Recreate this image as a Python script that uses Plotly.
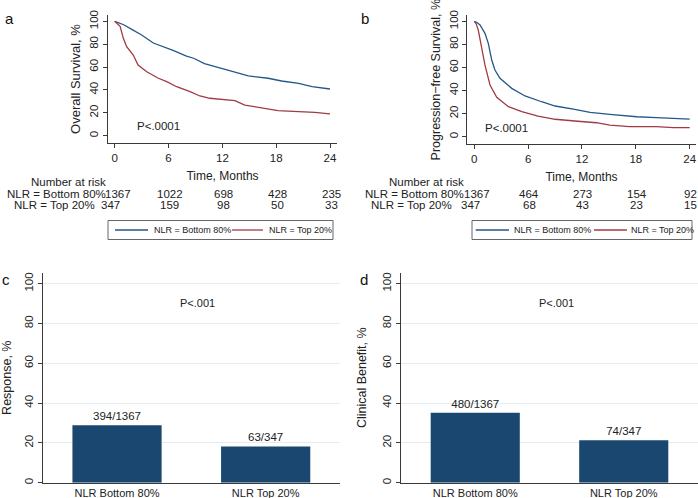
import plotly.graph_objects as go

W, H = 698, 498
FONT = "Liberation Sans, Arial, Helvetica, sans-serif"
BLUE = "#24578a"
RED = "#a03a44"
NAVY = "#1a476f"
AX = "#3a3a3a"
GRID = "#e2ecec"

# ---------------- data ----------------
group_names = ["NLR = Bottom 80%", "NLR = Top 20%"]

os_t_bottom = [0, 0.5, 1, 2, 3, 4.3, 5, 6, 6.5, 8, 8.8, 10, 11.2, 13, 14.9, 17.1, 18.6, 20.5, 22, 24]
os_bottom = [100, 98.5, 97, 92.5, 88, 81, 79, 76, 74.5, 69.5, 67.7, 63, 60.3, 56, 52.2, 50.2, 47.8, 45.8, 42.8, 40.8]
os_t_top = [0, 0.3, 0.6, 0.96, 1.33, 2.07, 2.6, 3.57, 4.87, 5.8, 6.9, 8.4, 9.5, 10.6, 11.7, 13.4, 14.5, 16.8, 18.2, 20.5, 22.3, 24]
os_top = [100, 98, 95.6, 85.1, 77.8, 70.5, 61.8, 55.9, 50.2, 47.2, 42.8, 38.5, 34.7, 32.7, 31.8, 30.6, 26.8, 23.9, 21.9, 21, 20.4, 19]

pfs_t_bottom = [0, 0.3, 0.64, 1.19, 1.56, 1.94, 2.3, 2.86, 4.17, 5.65, 7.5, 9, 11.2, 12.9, 15.1, 18.1, 20.3, 24]
pfs_bottom = [100, 99, 96.8, 89.6, 80.9, 66.5, 57.8, 50.6, 41.9, 35.3, 30.3, 26.6, 23.7, 21.1, 19.4, 17.3, 16.5, 15.3]
pfs_t_top = [0, 0.2, 0.45, 0.82, 1.19, 1.75, 2.5, 3.8, 5.3, 7.1, 9, 11.2, 13.6, 15.1, 17.3, 20.3, 22.2, 24]
pfs_top = [100, 98, 92.2, 78, 62.1, 44.8, 34.1, 26, 21.7, 17.9, 15.1, 13.6, 12.1, 10.1, 8.7, 8.7, 7.8, 7.8]

risk_times = [0, 6, 12, 18, 24]
os_risk_bottom = [1367, 1022, 698, 428, 235]
os_risk_top = [347, 159, 98, 50, 33]
pfs_risk_bottom = [1367, 464, 273, 154, 92]
pfs_risk_top = [347, 68, 43, 23, 15]

bar_categories = ["NLR Bottom 80%", "NLR Top 20%"]
response_pct = [28.8, 18.2]
response_labels = ["394/1367", "63/347"]
benefit_pct = [35.1, 21.3]
benefit_labels = ["480/1367", "74/347"]

km_ticks_x = [0, 6, 12, 18, 24]
ticks_y = [0, 20, 40, 60, 80, 100]


def px(x):
    return x / W


def py(y):
    return 1 - y / H


fig = go.Figure()

# KM curves
fig.add_trace(go.Scatter(x=os_t_bottom, y=os_bottom, mode="lines", name=group_names[0],
                         line=dict(color=BLUE, width=1.3), xaxis="x", yaxis="y"))
fig.add_trace(go.Scatter(x=os_t_top, y=os_top, mode="lines", name=group_names[1],
                         line=dict(color=RED, width=1.3), xaxis="x", yaxis="y"))
fig.add_trace(go.Scatter(x=pfs_t_bottom, y=pfs_bottom, mode="lines", name=group_names[0],
                         line=dict(color=BLUE, width=1.3), xaxis="x2", yaxis="y2"))
fig.add_trace(go.Scatter(x=pfs_t_top, y=pfs_top, mode="lines", name=group_names[1],
                         line=dict(color=RED, width=1.3), xaxis="x2", yaxis="y2"))

# Bars
fig.add_trace(go.Bar(x=bar_categories, y=response_pct, text=response_labels, textposition="outside",
                     marker=dict(color=NAVY, line=dict(width=0)), width=0.6,
                     textfont=dict(size=11.5, color="#222"), xaxis="x3", yaxis="y3", cliponaxis=False))
fig.add_trace(go.Bar(x=bar_categories, y=benefit_pct, text=benefit_labels, textposition="outside",
                     marker=dict(color=NAVY, line=dict(width=0)), width=0.6,
                     textfont=dict(size=11.5, color="#222"), xaxis="x4", yaxis="y4", cliponaxis=False))

common_axis = dict(showline=True, linecolor=AX, linewidth=1, ticks="outside", ticklen=4,
                   tickcolor=AX, zeroline=False, tickfont=dict(size=11.5, color="#222"))

layout = dict(
    width=W, height=H, margin=dict(l=0, r=0, t=0, b=0, autoexpand=False),
    paper_bgcolor="white", plot_bgcolor="white",
    font=dict(family=FONT, color="#222"),
    showlegend=False,
    xaxis=dict(common_axis, domain=[px(108), px(337)], range=[-0.75, 24.78], tickvals=km_ticks_x,
               showgrid=False, anchor="y",
               title=dict(text="Time, Months", font=dict(size=12), standoff=8)),
    yaxis=dict(common_axis, domain=[py(143), py(15)], range=[-6.4, 105.5], tickvals=ticks_y,
               tickangle=-90, showgrid=False, anchor="x",
               title=dict(text="Overall Survival, %", font=dict(size=13), standoff=4)),
    xaxis2=dict(common_axis, domain=[px(467.3), px(695.7)], range=[-0.78, 24.67], tickvals=km_ticks_x,
                showgrid=False, anchor="y2",
                title=dict(text="Time, Months", font=dict(size=12), standoff=8)),
    yaxis2=dict(common_axis, domain=[py(144.3), py(15)], range=[-6.6, 105.5], tickvals=ticks_y,
                tickangle=-90, showgrid=False, anchor="x2",
                title=dict(text="Progression\u2212free Survival, %", font=dict(size=12.5), standoff=4)),
    xaxis3=dict(showline=True, linecolor=AX, linewidth=1, ticks="", zeroline=False,
                domain=[px(42.7), px(340)], range=[-0.5, 1.5], anchor="y3", showgrid=False,
                tickfont=dict(size=11, color="#222")),
    yaxis3=dict(common_axis, domain=[py(482.7), py(272.7)], range=[0, 105.5], tickvals=ticks_y,
                tickangle=-90, showgrid=True, gridcolor=GRID, gridwidth=1, anchor="x3",
                title=dict(text="Response, %", font=dict(size=12.5), standoff=15)),
    xaxis4=dict(showline=True, linecolor=AX, linewidth=1, ticks="", zeroline=False,
                domain=[px(401), px(698)], range=[-0.5, 1.5], anchor="y4", showgrid=False,
                tickfont=dict(size=11, color="#222")),
    yaxis4=dict(common_axis, domain=[py(482.7), py(272.7)], range=[0, 105.5], tickvals=ticks_y,
                tickangle=-90, showgrid=True, gridcolor=GRID, gridwidth=1, anchor="x4",
                title=dict(text="Clinical Benefit, %", font=dict(size=12.5), standoff=12)),
)
fig.update_layout(**layout)

ann = []
shapes = []
# panel letters
for letter, x, y in [("a", 9, 18), ("b", 365, 18), ("c", 6, 279), ("d", 364, 279)]:
    ann.append(dict(text=letter, x=px(x), y=py(y), xref="paper", yref="paper", showarrow=False,
                    xanchor="center", yanchor="middle", font=dict(size=15, color="#111")))

# P values
ann.append(dict(text="P<.0001", x=4.83, y=8.2, xref="x", yref="y", showarrow=False, font=dict(size=11.5)))
ann.append(dict(text="P<.0001", x=3.64, y=7.3, xref="x2", yref="y2", showarrow=False, font=dict(size=11.5)))
ann.append(dict(text="P<.001", x=0.54, y=90.2, xref="x3", yref="y3", showarrow=False, font=dict(size=11)))
ann.append(dict(text="P<.001", x=0.55, y=90.2, xref="x4", yref="y4", showarrow=False, font=dict(size=11)))

# risk tables
RF = dict(size=11.5, color="#222")
for xr, head_x, lab_right, rb, rt in [
    ("x", 68, (108, 97), os_risk_bottom, os_risk_top),
    ("x2", 426, (465.7, 454), pfs_risk_bottom, pfs_risk_top),
]:
    ann.append(dict(text="Number at risk", x=px(head_x), y=py(182), xref="paper", yref="paper",
                    showarrow=False, xanchor="center", yanchor="middle", font=RF))
    ann.append(dict(text=group_names[0], x=px(lab_right[0]), y=py(194), xref="paper", yref="paper",
                    showarrow=False, xanchor="right", yanchor="middle", font=RF))
    ann.append(dict(text=group_names[1], x=px(lab_right[1]), y=py(205), xref="paper", yref="paper",
                    showarrow=False, xanchor="right", yanchor="middle", font=RF))
    for i, t in enumerate(risk_times):
        ann.append(dict(text=str(rb[i]), x=t, y=py(194), xref=xr, yref="paper", showarrow=False,
                        xanchor="center", yanchor="middle", xshift=3 if i == 0 else 1, font=RF))
        ann.append(dict(text=str(rt[i]), x=t, y=py(205), xref=xr, yref="paper", showarrow=False,
                        xanchor="center", yanchor="middle", xshift=-4 if i == 0 else 1, font=RF))

# legends (box, keys, labels) under each KM panel
LF = dict(size=9, color="#222")
for box, keys, texts in [
    ((108, 333), ((115, 148), (232, 263)), (152, 267)),
    ((472, 692), ((475.7, 509), (594, 627)), (512, 629)),
]:
    shapes.append(dict(type="rect", xref="paper", yref="paper", x0=px(box[0]), x1=px(box[1]),
                       y0=py(239.5), y1=py(220.5), line=dict(color="#666", width=1),
                       fillcolor="white", layer="above"))
    for k, color, name, tx in [(keys[0], BLUE, group_names[0], texts[0]),
                               (keys[1], RED, group_names[1], texts[1])]:
        shapes.append(dict(type="line", xref="paper", yref="paper", x0=px(k[0]), x1=px(k[1]),
                           y0=py(230), y1=py(230), line=dict(color=color, width=1.3)))
        ann.append(dict(text=name, x=px(tx), y=py(230), xref="paper", yref="paper", showarrow=False,
                        xanchor="left", yanchor="middle", font=LF))

fig.update_layout(annotations=ann, shapes=shapes)
fig.write_html("out.html", config={"displayModeBar": False},
               post_script="document.body.style.margin='0';document.body.style.overflow='hidden';")
